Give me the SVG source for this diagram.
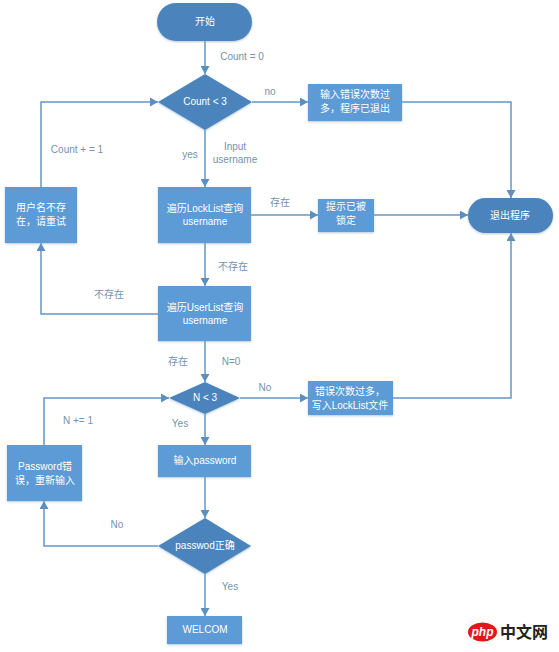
<svg xmlns="http://www.w3.org/2000/svg" width="559" height="652" viewBox="0 0 559 652">
<style>
text{font-family:"Liberation Sans","Noto Sans CJK SC",sans-serif;font-size:10px;text-anchor:middle}
.t{fill:#fff}
.l{fill:#7393ad}
.b{fill:#5b9bd5;filter:url(#s)}
.d{fill:#4b84bc;filter:url(#s)}
.c{fill:none;stroke:#6596c2;stroke-width:1.5;marker-end:url(#a)}
</style>
<defs>
<marker id="a" markerUnits="userSpaceOnUse" markerWidth="9" markerHeight="9" refX="8" refY="4.5" orient="auto"><path d="M0 0L8 4.5L0 9Z" fill="#5b8fbf"/></marker>
<filter id="s" x="-10%" y="-10%" width="120%" height="125%"><feDropShadow dx="0" dy="1" stdDeviation="1" flood-color="#7fa6cc" flood-opacity=".6"/></filter>
</defs>
<rect width="559" height="652" fill="#fff"/>
<g id="connectors">
<path class="c" d="M205 41V74"/>
<path class="c" d="M205 130V187"/>
<path class="c" d="M205 243V286"/>
<path class="c" d="M205 341V382"/>
<path class="c" d="M205 414V445"/>
<path class="c" d="M205 477V518"/>
<path class="c" d="M205 574V616"/>
<path class="c" d="M252 102H308"/>
<path class="c" d="M402 102H511V198"/>
<path class="c" d="M251 215H318"/>
<path class="c" d="M374 215H468"/>
<path class="c" d="M240 398H308"/>
<path class="c" d="M393 398H511V233"/>
<path class="c" d="M41 187V102H158"/>
<path class="c" d="M158 314H41V243"/>
<path class="c" d="M44 445V398H169"/>
<path class="c" d="M158 546H44V501"/>
</g>
<g id="edge-labels">
<text class="l" x="242" y="60">Count = 0</text>
<text class="l" x="270" y="95">no</text>
<text class="l" x="77" y="153">Count + = 1</text>
<text class="l" x="190" y="158">yes</text>
<text class="l" x="235" y="150">Input</text>
<text class="l" x="235" y="163">username</text>
<text class="l" x="280" y="206">存在</text>
<text class="l" x="233" y="270">不存在</text>
<text class="l" x="109" y="298">不存在</text>
<text class="l" x="178" y="365">存在</text>
<text class="l" x="231" y="365">N=0</text>
<text class="l" x="265" y="391">No</text>
<text class="l" x="180" y="427">Yes</text>
<text class="l" x="78" y="424">N += 1</text>
<text class="l" x="117" y="528">No</text>
<text class="l" x="230" y="590">Yes</text>
</g>
<g id="start"><rect class="d" x="157" y="3" width="95" height="38" rx="19"/><text class="t" x="205" y="25">开始</text></g>
<g id="count-check"><path class="d" d="M205 74L252 102L205 130L158 102Z"/><text class="t" x="205" y="105">Count &lt; 3</text></g>
<g id="too-many"><rect class="b" x="308" y="84" width="94" height="37"/><text class="t" x="355" y="98">输入错误次数过</text><text class="t" x="355" y="112">多，程序已退出</text></g>
<g id="retry-user"><rect class="b" x="5" y="187" width="72" height="56"/><text class="t" x="41" y="211">用户名不存</text><text class="t" x="41" y="225">在，请重试</text></g>
<g id="locklist"><rect class="b" x="158" y="187" width="93" height="56"/><text class="t" x="205" y="212">遍历LockList查询</text><text class="t" x="205" y="225">username</text></g>
<g id="locked"><rect class="b" x="318" y="199" width="56" height="33"/><text class="t" x="346" y="210">提示已被</text><text class="t" x="346" y="224">锁定</text></g>
<g id="exit"><rect class="d" x="468" y="198" width="85" height="35" rx="17.5"/><text class="t" x="510" y="219">退出程序</text></g>
<g id="userlist"><rect class="b" x="158" y="286" width="93" height="55"/><text class="t" x="205" y="311">遍历UserList查询</text><text class="t" x="205" y="324">username</text></g>
<g id="n-check"><path class="d" d="M205 382L240 398L205 414L169 398Z"/><text class="t" x="205" y="401">N &lt; 3</text></g>
<g id="write-lock"><rect class="b" x="308" y="381" width="85" height="34"/><text class="t" x="350" y="395">错误次数过多，</text><text class="t" x="350" y="409">写入LockList文件</text></g>
<g id="password-wrong"><rect class="b" x="7" y="445" width="75" height="56"/><text class="t" x="45" y="470">Password错</text><text class="t" x="45" y="484">误，重新输入</text></g>
<g id="input-password"><rect class="b" x="158" y="445" width="93" height="32"/><text class="t" x="205" y="464">输入password</text></g>
<g id="password-check"><path class="d" d="M205 518L251 546L205 574L158 546Z"/><text class="t" x="205" y="549">passwod正确</text></g>
<g id="welcom"><rect class="b" x="167" y="616" width="75" height="28"/><text class="t" x="205" y="633">WELCOM</text></g>
<g id="watermark"><ellipse cx="482.5" cy="632" rx="14.5" ry="9.5" fill="#e2171c"/><text x="482.5" y="636" fill="#fff" style="font-size:12px;font-weight:700;font-style:italic">php</text><text x="524" y="638" fill="#222" style="font-size:16px;font-weight:700">中文网</text></g>
</svg>
